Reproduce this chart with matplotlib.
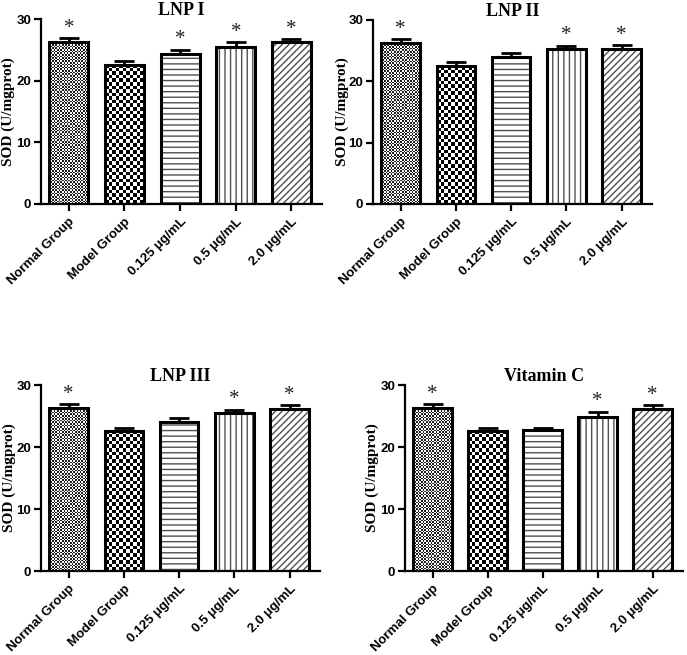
import numpy as np
import matplotlib
matplotlib.use("Agg")
import matplotlib.pyplot as plt

categories = ["Normal Group", "Model Group", "0.125 μg/mL", "0.5 μg/mL", "2.0 μg/mL"]
titles = ["LNP I", "LNP II", "LNP III", "Vitamin C"]
means_lnp1 = [26.3, 22.6, 24.4, 25.5, 26.2]
err_lnp1 = [0.6, 0.6, 0.6, 0.7, 0.5]
means_lnp2 = [26.2, 22.5, 23.9, 25.3, 25.35]
err_lnp2 = [0.65, 0.6, 0.65, 0.5, 0.55]
means_lnp3 = [26.3, 22.6, 24.1, 25.5, 26.2]
err_lnp3 = [0.6, 0.5, 0.5, 0.5, 0.55]
means_vc = [26.3, 22.6, 22.7, 24.9, 26.2]
err_vc = [0.6, 0.5, 0.4, 0.8, 0.5]
signif_lnp1 = [True, False, True, True, True]
signif_lnp2 = [True, False, False, True, True]
signif_lnp3 = [True, False, False, True, True]
signif_vc = [True, False, False, True, True]
yticks = [0, 10, 20, 30]

panels = [
    (titles[0], means_lnp1, err_lnp1, signif_lnp1, [41, 322, 19, 204], -33),
    (titles[1], means_lnp2, err_lnp2, signif_lnp2, [373, 652, 20, 204], -31),
    (titles[2], means_lnp3, err_lnp3, signif_lnp3, [41, 320, 385, 571], -32),
    (titles[3], means_vc, err_vc, signif_vc, [405, 683, 385, 571], -33),
]

W, H = 687, 655
fig = plt.figure(figsize=(W / 100, H / 100), dpi=100)

serif = ["Liberation Serif", "DejaVu Serif"]
sans = ["Liberation Sans", "DejaVu Sans"]


def checker(nx, ny, c1, c2):
    a = (np.add.outer(np.arange(ny), np.arange(nx)) % 2).astype(float)
    col1 = np.array(matplotlib.colors.to_rgb(c1))
    col2 = np.array(matplotlib.colors.to_rgb(c2))
    return a[..., None] * col2 + (1 - a[..., None]) * col1


for title, means, errs, sig, (x0, x1, yt, yb), ylab_off in panels:
    ax = fig.add_axes([x0 / W, 1 - yb / H, (x1 - x0) / W, (yb - yt) / H])
    x = np.arange(len(categories))
    ax.set_xlim(-0.5, 4.55)
    ax.set_ylim(0, 30)
    ax.set_yticks(yticks)
    ax.set_xticks(x)

    hatches = [None, None, "---", "|||", "/////"]
    bars = ax.bar(x, means, width=0.7, color="white", edgecolor="#505050",
                  linewidth=0, zorder=2)
    for b, h in zip(bars, hatches):
        if h:
            b.set_hatch(h)
    fig.canvas.draw()
    for i, (cell, c1, c2) in enumerate([(1.6, "#1e1e1e", "#ffffff"), (3.6, "#000000", "#ffffff")]):
        b = bars[i]
        bb = b.get_window_extent()
        nx = max(1, int(round(bb.width / cell)))
        ny = max(1, int(round(bb.height / cell)))
        img = checker(nx, ny, c1, c2)
        im = ax.imshow(img, extent=(b.get_x(), b.get_x() + b.get_width(), 0, b.get_height()),
                       aspect="auto", interpolation="nearest", zorder=2.5, origin="lower")
        im.set_clip_path(b)
    ax.bar(x, means, width=0.7, color="none", edgecolor="black", linewidth=2.2, zorder=3)
    ax.set_aspect("auto")
    ax.set_xlim(-0.5, 4.55)
    ax.set_ylim(0, 30)
    ax.errorbar(x, means, yerr=[np.zeros(len(errs)), errs], fmt="none", ecolor="black",
                elinewidth=2, capsize=7, capthick=2, zorder=4)
    for xi, m, e, s in zip(x, means, errs, sig):
        if s:
            ax.text(xi, m + e + 1.6, "*", ha="center", va="center", fontsize=15,
                    family=serif, color="#222222", zorder=5)

    ax.spines["top"].set_visible(False)
    ax.spines["right"].set_visible(False)
    ax.spines["left"].set_linewidth(1.6)
    ax.spines["bottom"].set_linewidth(1.6)
    ax.tick_params(axis="both", direction="out", length=5, width=1.6)
    ax.tick_params(axis="y", pad=2)
    ax.set_xticklabels(categories, rotation=45, ha="right", rotation_mode="anchor",
                       fontsize=9.5, fontweight="bold", family=sans)
    for lab in ax.get_yticklabels():
        lab.set_fontsize(9.5)
        lab.set_fontweight("bold")
        lab.set_family(sans)
    ax.set_ylabel("SOD (U/mgprot)", fontsize=11, fontweight="bold", family=serif, va="center")
    ax.yaxis.set_label_coords(ylab_off / (x1 - x0), 0.5)
    ax.set_title(title, fontsize=13, fontweight="bold", family=serif, pad=2)

fig.savefig("out.png", dpi=100)
